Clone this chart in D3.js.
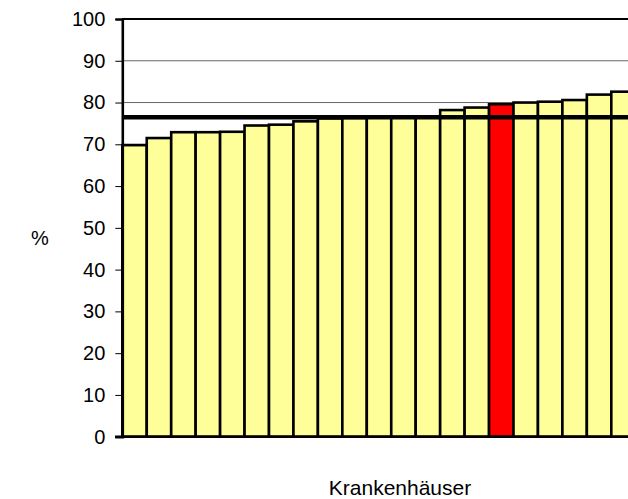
<!DOCTYPE html>
<html><head><meta charset="utf-8">
<script src="https://cdn.jsdelivr.net/npm/d3@7"></script>
<style>body{margin:0;background:#fff}svg{display:block}</style>
</head><body>
<script>
const categories = d3.range(1, 22).map(i => "KH " + i);
const values = [69.8, 71.5, 72.9, 72.9, 73.0, 74.5, 74.7, 75.5, 76.2, 76.3, 76.4, 76.5, 76.7, 78.2, 78.8, 79.6, 80.0, 80.2, 80.6, 81.9, 82.6];
const highlight = 15;
const average = 76.5;
const yTicks = [0, 10, 20, 30, 40, 50, 60, 70, 80, 90, 100];
const yLabel = "%";
const xLabel = "Krankenhäuser";

const W = 628, H = 499;
const font = "Liberation Sans, Arial, sans-serif";
const svg = d3.select("body").append("svg").attr("width", W).attr("height", H);
const x = d3.scaleBand().domain(categories).range([122.3, 122.3 + 21 * 24.45]).padding(0);
const y = d3.scaleLinear().domain([0, 100]).range([436.7, 19]);

svg.append("g").selectAll("line").data(yTicks.filter(d => d > 0 && d < 100)).join("line")
  .attr("x1", 122).attr("x2", 700).attr("y1", d => y(d)).attr("y2", d => y(d))
  .attr("stroke", "#666").attr("stroke-width", 1);

svg.append("g").selectAll("rect").data(values).join("rect")
  .attr("x", (d, i) => x(categories[i]))
  .attr("y", d => y(d))
  .attr("width", x.bandwidth())
  .attr("height", d => y(0) - y(d))
  .attr("fill", (d, i) => i === highlight ? "#ff0000" : "#ffff99")
  .attr("stroke", "#000").attr("stroke-width", 2.6);

svg.append("line").attr("x1", 122).attr("x2", 700).attr("y1", y(average)).attr("y2", y(average))
  .attr("stroke", "#000").attr("stroke-width", 4.5);

svg.append("line").attr("x1", 122).attr("x2", 700).attr("y1", y(100)).attr("y2", y(100))
  .attr("stroke", "#000").attr("stroke-width", 2);

const yAxis = d3.axisLeft(y).tickValues(yTicks).tickSize(7).tickPadding(10);
const ga = svg.append("g").attr("transform", "translate(122.3,0)").call(yAxis);
ga.select(".domain").attr("stroke", "#000").attr("stroke-width", 2.6);
ga.selectAll(".tick line").attr("stroke", "#000").attr("stroke-width", 1);
ga.selectAll("text").attr("font-family", font).attr("font-size", 20).attr("fill", "#000");

svg.append("line").attr("x1", 115).attr("x2", 700).attr("y1", y(0)).attr("y2", y(0))
  .attr("stroke", "#000").attr("stroke-width", 2.6);

svg.append("text").attr("x", 40).attr("y", 245).attr("text-anchor", "middle")
  .attr("font-family", font).attr("font-size", 20).text(yLabel);
svg.append("text").attr("x", 400).attr("y", 495).attr("text-anchor", "middle")
  .attr("font-family", font).attr("font-size", 21).text(xLabel);
</script>
</body></html>
